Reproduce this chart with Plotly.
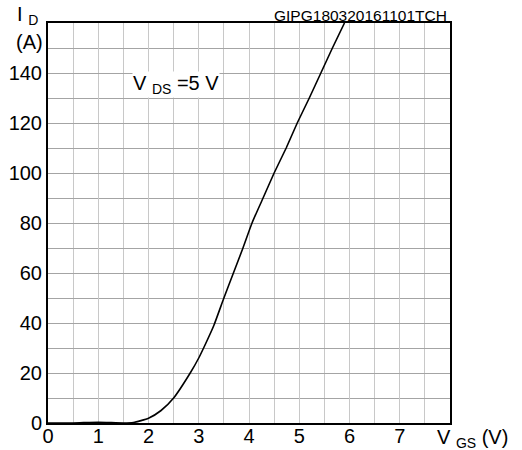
import plotly.graph_objects as go

# transfer characteristic, VDS = 5 V
vgs = [0.0, 0.5, 1.0, 1.5, 1.7, 2.0, 2.25, 2.5, 2.83, 3.0, 3.12, 3.3, 3.5,
       3.69, 3.88, 4.06, 4.28, 4.5, 4.74, 4.96, 5.2, 5.43, 5.66, 5.9]
id_a = [0.0, 0.0, 0.3, 0.0, 0.2, 1.9, 5.0, 10.0, 20.0, 26.0, 31.0, 39.0, 50.0,
        60.0, 70.0, 80.0, 90.0, 100.0, 110.0, 120.0, 130.0, 140.0, 150.0, 160.0]

x_ticks = [0, 1, 2, 3, 4, 5, 6, 7]
y_ticks = [0, 20, 40, 60, 80, 100, 120, 140]

FONT = "Liberation Sans, Arial, sans-serif"
H_GRID = "#a4a4a4"
V_GRID = "#c8c8c8"

fig = go.Figure()

fig.add_trace(
    go.Scatter(
        x=vgs,
        y=id_a,
        mode="lines",
        line=dict(color="black", width=1.6, shape="spline", smoothing=0.5),
        showlegend=False,
        hoverinfo="skip",
    )
)

fig.update_layout(
    width=522,
    height=450,
    margin=dict(l=48, r=72, t=23, b=27),
    paper_bgcolor="white",
    plot_bgcolor="white",
    font=dict(family=FONT, size=20, color="black"),
)

fig.update_xaxes(
    range=[0, 8],
    tickvals=x_ticks,
    ticks="",
    showgrid=True,
    gridcolor=V_GRID,
    gridwidth=1.3,
    minor=dict(dtick=0.5, showgrid=True, gridcolor=V_GRID, gridwidth=1.3),
    showline=True,
    linecolor="black",
    linewidth=2,
    mirror=True,
    zeroline=False,
    automargin=False,
    ticklabelstandoff=-6,
)

fig.update_yaxes(
    range=[0, 160],
    tickvals=y_ticks,
    ticks="",
    showgrid=True,
    gridcolor=H_GRID,
    gridwidth=1.3,
    minor=dict(dtick=10, showgrid=True, gridcolor=H_GRID, gridwidth=1.3),
    showline=True,
    linecolor="black",
    linewidth=2,
    mirror=True,
    zeroline=False,
    automargin=False,
    ticklabelstandoff=0,
)

# axis titles placed like the datasheet
fig.add_annotation(
    text="I <sub>D</sub>", xref="paper", yref="paper", x=0, y=1.019,
    xanchor="right", yanchor="middle", xshift=-8, showarrow=False,
)
fig.add_annotation(
    text="(A)", xref="paper", yref="paper", x=0, y=0.9525,
    xanchor="right", yanchor="middle", xshift=-3, showarrow=False,
)
fig.add_annotation(
    text="V <sub>GS</sub> (V)", xref="paper", yref="paper", x=1, y=0,
    xanchor="left", yanchor="top", xshift=-15, yshift=-1, showarrow=False,
)

fig.add_annotation(
    text="V <sub>DS</sub> =5 V", xref="x", yref="y", x=1.67, y=135.6,
    xanchor="left", yanchor="middle", showarrow=False,
    bgcolor="white", borderpad=0,
)

fig.add_annotation(
    text="GIPG180320161101TCH", xref="paper", yref="paper", x=1, y=1,
    xanchor="right", yanchor="bottom", xshift=-1, yshift=-3,
    showarrow=False, font=dict(size=15.5),
)

# the page's default body margin would push the figure 8 px in
fig.write_html(
    "out.html",
    config={"displayModeBar": False},
    post_script="document.body.style.margin = '0';",
)
